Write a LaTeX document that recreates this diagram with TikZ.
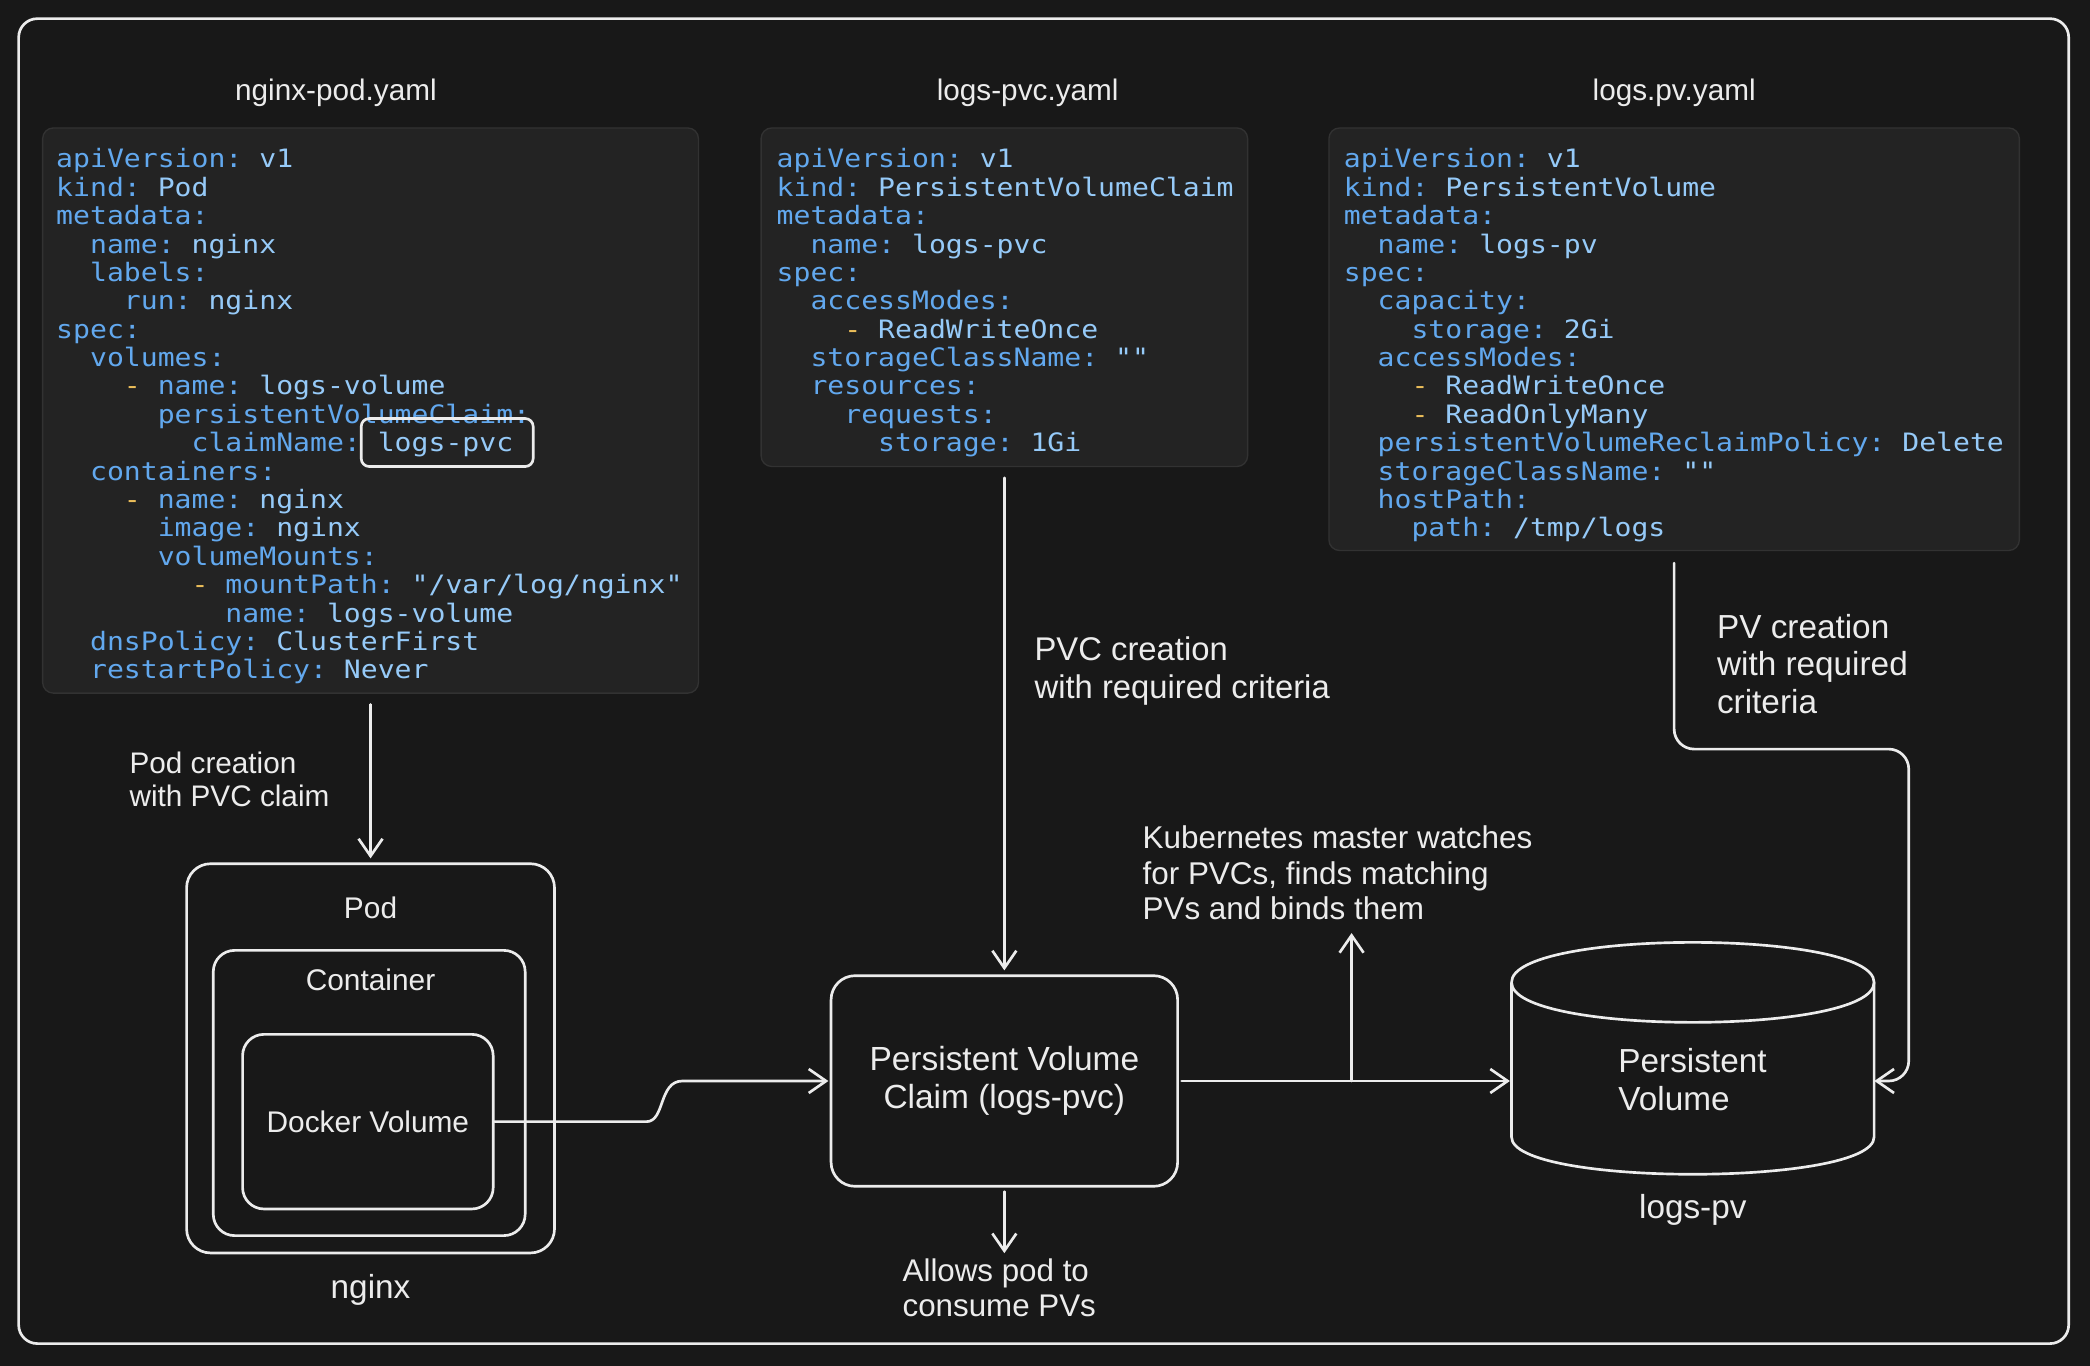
\documentclass[tikz,border=0pt]{standalone}
\usepackage{fontspec}
\setmainfont{Liberation Sans}
\setmonofont{DejaVu Sans Mono}[FakeStretch=1.11]
\usetikzlibrary{arrows.meta}
\definecolor{bgc}{RGB}{24,24,24}
\definecolor{codebg}{RGB}{35,35,35}
\definecolor{codeedge}{RGB}{50,50,50}
\definecolor{ink}{RGB}{236,236,236}
\definecolor{keyc}{RGB}{98,168,238}
\definecolor{valc}{RGB}{150,202,248}
\definecolor{dashc}{RGB}{236,190,90}
\newcommand\ykey[1]{\textcolor{keyc}{#1}}
\newcommand\yval[1]{\textcolor{valc}{#1}}
\newcommand\ydash{\textcolor{dashc}{-}}
\newcommand\yind[1]{\hbox to #1\fontcharwd\font`0{}}
\newcommand\ysp{\yind{1}}
\newcommand\yamlfont{\ttfamily\fontsize{19}{21.3}\selectfont}
\newcommand\setfs[2]{\fontsize{#1}{#2}\selectfont}
\begin{document}
\begin{tikzpicture}[x=1pt,y=-1pt,
  frame/.style={draw=ink, line width=2pt, rounded corners=14pt, inner sep=0pt},
  codebox/.style={fill=codebg, draw=codeedge, line width=1pt, rounded corners=8pt, inner sep=0pt},
  codetext/.style={anchor=north west, inner sep=0pt, align=left, font=\yamlfont},
  roundbox/.style={draw=ink, line width=2pt, rounded corners=#1, inner sep=0pt},
  lbl/.style={text=ink, inner sep=0pt},
  captxt/.style={text=ink, inner sep=0pt, anchor=west, align=left},
  arr/.style={draw=ink, line width=2pt, line cap=round, line join=round, -{Straight Barb[length=13pt,width=18pt]}},
]
\fill[bgc] (0,0) rectangle (1568,1024.8);
\useasboundingbox (0,0) rectangle (1568,1024.8);

% outer frame
\node[frame, minimum width=1538pt, minimum height=994pt] (frame) at (783,511) {};

% titles
\node[lbl, font=\setfs{22.3}{26}] (t1) at (252,70) {nginx-pod.yaml};
\node[lbl, font=\setfs{22.3}{26}] (t2) at (771,70) {logs-pvc.yaml};
\node[lbl, font=\setfs{22.3}{26}] (t3) at (1256,70) {logs.pv.yaml};

% code boxes
\node[codebox, minimum width=492pt, minimum height=424pt] (boxpod) at (278,308) {};
\node[codebox, minimum width=365pt, minimum height=254pt] (boxpvc) at (753.5,223) {};
\node[codebox, minimum width=518pt, minimum height=317pt] (boxpv) at (1256,254.5) {};

\node[codetext] (codepod) at (42,111.3) {%
\ykey{apiVersion:}\ysp\yval{v1}\\
\ykey{kind:}\ysp\yval{Pod}\\
\ykey{metadata:}\\
\yind{2}\ykey{name:}\ysp\yval{nginx}\\
\yind{2}\ykey{labels:}\\
\yind{4}\ykey{run:}\ysp\yval{nginx}\\
\ykey{spec:}\\
\yind{2}\ykey{volumes:}\\
\yind{4}\ydash\ysp\ykey{name:}\ysp\yval{logs-volume}\\
\yind{6}\ykey{persistentVolumeClaim:}\\
\yind{8}\ykey{claimName:}\ysp\yval{logs-pvc}\\
\yind{2}\ykey{containers:}\\
\yind{4}\ydash\ysp\ykey{name:}\ysp\yval{nginx}\\
\yind{6}\ykey{image:}\ysp\yval{nginx}\\
\yind{6}\ykey{volumeMounts:}\\
\yind{8}\ydash\ysp\ykey{mountPath:}\ysp\yval{"/var/log/nginx"}\\
\yind{10}\ykey{name:}\ysp\yval{logs-volume}\\
\yind{2}\ykey{dnsPolicy:}\ysp\yval{ClusterFirst}\\
\yind{2}\ykey{restartPolicy:}\ysp\yval{Never}};

\node[codetext] (codepvc) at (582.5,111.3) {%
\ykey{apiVersion:}\ysp\yval{v1}\\
\ykey{kind:}\ysp\yval{PersistentVolumeClaim}\\
\ykey{metadata:}\\
\yind{2}\ykey{name:}\ysp\yval{logs-pvc}\\
\ykey{spec:}\\
\yind{2}\ykey{accessModes:}\\
\yind{4}\ydash\ysp\yval{ReadWriteOnce}\\
\yind{2}\ykey{storageClassName:}\ysp\yval{""}\\
\yind{2}\ykey{resources:}\\
\yind{4}\ykey{requests:}\\
\yind{6}\ykey{storage:}\ysp\yval{1Gi}};

\node[codetext] (codepv) at (1008,111.3) {%
\ykey{apiVersion:}\ysp\yval{v1}\\
\ykey{kind:}\ysp\yval{PersistentVolume}\\
\ykey{metadata:}\\
\yind{2}\ykey{name:}\ysp\yval{logs-pv}\\
\ykey{spec:}\\
\yind{2}\ykey{capacity:}\\
\yind{4}\ykey{storage:}\ysp\yval{2Gi}\\
\yind{2}\ykey{accessModes:}\\
\yind{4}\ydash\ysp\yval{ReadWriteOnce}\\
\yind{4}\ydash\ysp\yval{ReadOnlyMany}\\
\yind{2}\ykey{persistentVolumeReclaimPolicy:}\ysp\yval{Delete}\\
\yind{2}\ykey{storageClassName:}\ysp\yval{""}\\
\yind{2}\ykey{hostPath:}\\
\yind{4}\ykey{path:}\ysp\yval{/tmp/logs}};

% highlight around logs-pvc
\node[roundbox=6pt, minimum width=129pt, minimum height=36pt] (hl) at (335.5,332) {};

% pod nesting
\node[roundbox=18pt, minimum width=276pt, minimum height=292pt] (pod) at (278,794) {};
\node[lbl, font=\setfs{22.4}{26}] (podlbl) at (278,681) {Pod};
\node[roundbox=16pt, minimum width=234pt, minimum height=214pt] (cont) at (277,820) {};
\node[lbl, font=\setfs{22.4}{26}] (contlbl) at (278,735) {Container};
\node[roundbox=16pt, minimum width=188pt, minimum height=131pt, text=ink, font=\setfs{22.4}{26}] (dv) at (276,841.5) {Docker Volume};
\node[lbl, font=\setfs{25}{28}] (nginx) at (278,968) {nginx};

% PVC
\node[roundbox=18pt, minimum width=260pt, minimum height=158pt, text=ink, align=center, font=\setfs{25.1}{28}] (pvc) at (753.5,811) {\raisebox{-2pt}{Persistent Volume}\\\raisebox{-2pt}{Claim (logs-pvc)}};

% PV cylinder
\node[inner sep=0pt, minimum width=272pt, minimum height=174pt] (pv) at (1270,793) {};
\draw[ink, line width=2pt] (1134,737) .. controls (1134,697) and (1406,697) .. (1406,737)
  .. controls (1406,777) and (1134,777) .. (1134,737);
\draw[ink, line width=2pt, line join=round] (1134,737) -- (1134,853)
  .. controls (1134,890.3) and (1406,890.3) .. (1406,853) -- (1406,737);
\node[captxt, font=\setfs{25}{28}] (pvtext) at (1214,810) {Persistent\\Volume};
\node[lbl, font=\setfs{25}{28}] (pvname) at (1270,908) {logs-pv};

% captions
\node[captxt, font=\setfs{22.3}{25}] (podcap) at (97,584.5) {Pod creation\\with PVC claim};
\node[captxt, font=\setfs{24.6}{28}] (pvccap) at (776,503.5) {PVC creation\\with required criteria};
\node[captxt, font=\setfs{25}{28}] (pvcap) at (1288,498) {PV creation\\with required\\criteria};
\node[captxt, font=\setfs{23.6}{26.5}] (kube) at (857,655) {Kubernetes master watches\\for PVCs, finds matching\\PVs and binds them};
\node[captxt, font=\setfs{23.5}{26}] (allows) at (677,966) {Allows pod to\\consume PVs};

% connectors
\draw[arr, shorten <=8pt, shorten >=3pt] (boxpod.south) -- (pod.north);
\draw[arr, shorten >=1pt] (dv.east) -- (485,841.5) .. controls (499,841.5) and (494,811) .. (512,811) -- (pvc.west);
\draw[arr, shorten <=8pt, shorten >=3pt] (boxpvc.south) -- (pvc.north);
\draw[arr, shorten <=3pt, shorten >=4pt] (pvc.south) -- (pvc.south |- allows.north);
\draw[arr, shorten <=2pt, shorten >=1pt] (pvc.east) -- (pvc.east -| pv.west);
\coordinate (bind) at (1014,811);
\coordinate (bindtip) at (1014,700);
\draw[arr] (bind) -- (bindtip);
\coordinate (pvbend) at (1432,562);
\draw[arr, rounded corners=15pt, shorten <=9pt] (boxpv.south) -- (boxpv.south |- pvbend) -- (pvbend) -- (pvbend |- pvc.east) -- (pv.east |- pvc.east);
\end{tikzpicture}
\end{document}
